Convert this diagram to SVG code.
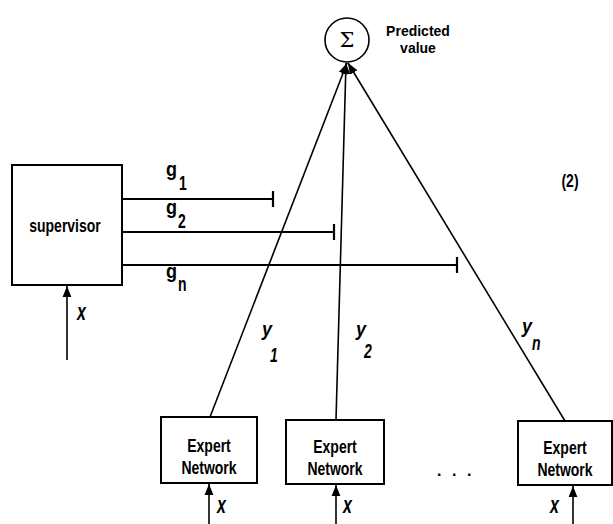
<svg xmlns="http://www.w3.org/2000/svg" width="613" height="524" viewBox="0 0 613 524">
<style>
.box{fill:#fff;stroke:#000;stroke-width:2}
.ln{stroke:#000;stroke-width:2.2;fill:none}
.thin{stroke:#000;stroke-width:1.6;fill:none}
.t{font-family:"Liberation Sans",Arial,sans-serif;font-size:14px;font-weight:bold;fill:#000;text-anchor:middle}
.g{font-family:"Liberation Sans",Arial,sans-serif;font-size:18px;font-weight:bold;fill:#000}
.s{font-family:"Liberation Sans",Arial,sans-serif;font-size:14px;font-weight:bold;fill:#000}
.it{font-family:"Liberation Sans",Arial,sans-serif;font-size:18px;font-style:italic;font-weight:bold;fill:#000}
.si{font-family:"Liberation Sans",Arial,sans-serif;font-size:14px;font-style:italic;font-weight:bold;fill:#000}
.xi{font-family:"Liberation Sans",Arial,sans-serif;font-size:16px;font-style:italic;font-weight:bold;fill:#000}
</style>
<defs>
<marker id="ah" viewBox="0 0 10 10" refX="10" refY="5" markerWidth="11" markerHeight="11" markerUnits="userSpaceOnUse" orient="auto">
<path d="M0,1 L10,5 L0,9 z" fill="#000"/>
</marker>
</defs>
<rect width="613" height="524" fill="#fff"/>
<g id="sum">
<circle cx="347" cy="40" r="22" class="thin"/>
<text x="347" y="47" style="font-family:'DejaVu Serif',serif;font-size:21px;text-anchor:middle">Σ</text>
</g>
<g id="predicted">
<text transform="translate(418,36) scale(1,1.05)" class="t">Predicted</text>
<text transform="translate(418,53) scale(1,1.05)" class="t">value</text>
</g>
<g id="supervisor">
<rect x="12" y="165" width="110" height="120" class="box"/>
<text transform="translate(65,232) scale(1,1.3)" class="t">supervisor</text>
</g>
<g id="expert1">
<rect x="161" y="417" width="96" height="66" class="box"/>
<text transform="translate(209,452) scale(1,1.3)" class="t">Expert</text>
<text transform="translate(209,474) scale(1,1.3)" class="t">Network</text>
</g>
<g id="expert2">
<rect x="286" y="420" width="98" height="64" class="box"/>
<text transform="translate(335,453) scale(1,1.3)" class="t">Expert</text>
<text transform="translate(335,475) scale(1,1.3)" class="t">Network</text>
</g>
<g id="expertn">
<rect x="518" y="421" width="94" height="64" class="box"/>
<text transform="translate(565,454) scale(1,1.3)" class="t">Expert</text>
<text transform="translate(565,476) scale(1,1.3)" class="t">Network</text>
</g>
<g id="connectors">
<line x1="210" y1="417" x2="347" y2="63" class="thin" marker-end="url(#ah)"/>
<line x1="336" y1="420" x2="346" y2="63" class="thin" marker-end="url(#ah)"/>
<line x1="565" y1="421" x2="348" y2="63" class="thin" marker-end="url(#ah)"/>
<line x1="122" y1="199" x2="273" y2="199" class="ln"/>
<line x1="273" y1="191" x2="273" y2="207" class="ln"/>
<line x1="122" y1="232" x2="334" y2="232" class="ln"/>
<line x1="334" y1="224" x2="334" y2="240" class="ln"/>
<line x1="122" y1="265" x2="457" y2="265" class="ln"/>
<line x1="457" y1="257" x2="457" y2="273" class="ln"/>
<line x1="67" y1="360" x2="67" y2="286" class="thin" marker-end="url(#ah)"/>
<line x1="209" y1="524" x2="209" y2="484" class="thin" marker-end="url(#ah)"/>
<line x1="336" y1="524" x2="336" y2="485" class="thin" marker-end="url(#ah)"/>
<line x1="573" y1="524" x2="573" y2="486" class="thin" marker-end="url(#ah)"/>
</g>
<g id="labels">
<text transform="translate(166,176) scale(1,1.15)" class="g">g</text>
<text transform="translate(179,190) scale(1,1.4)" class="s">1</text>
<text transform="translate(166,214) scale(1,1.15)" class="g">g</text>
<text transform="translate(178,228) scale(1,1.4)" class="s">2</text>
<text transform="translate(166,278) scale(1,1.15)" class="g">g</text>
<text transform="translate(178,291) scale(1,1.4)" class="s">n</text>
<text transform="translate(262,336) scale(1,1.15)" class="it">y</text>
<text transform="translate(270,362) scale(1,1.4)" class="si">1</text>
<text transform="translate(356,336) scale(1,1.15)" class="it">y</text>
<text transform="translate(364,358) scale(1,1.4)" class="si">2</text>
<text transform="translate(522,333) scale(1,1.15)" class="it">y</text>
<text transform="translate(532,350) scale(1,1.4)" class="si">n</text>
<text transform="translate(77,320) scale(1,1.45)" class="xi">x</text>
<text transform="translate(217,513) scale(1,1.45)" class="xi">x</text>
<text transform="translate(343,513) scale(1,1.45)" class="xi">x</text>
<text transform="translate(550,513) scale(1,1.45)" class="xi">x</text>
<text x="437" y="476" class="s" style="font-size:16px;letter-spacing:10.5px">...</text>
<text transform="translate(570,187) scale(1,1.3)" class="t">(2)</text>
</g>
</svg>
